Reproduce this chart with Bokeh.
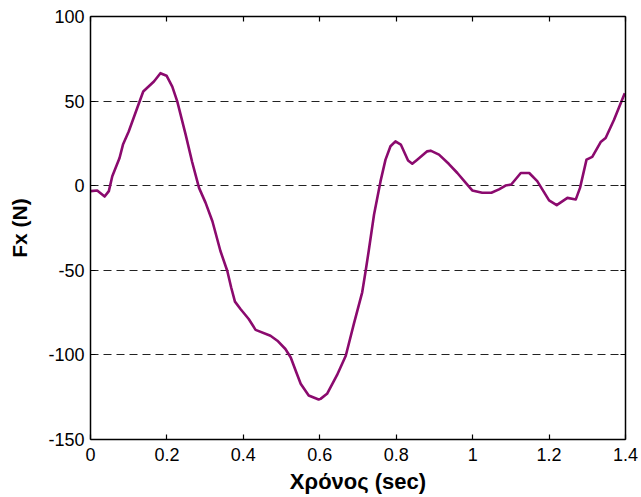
from bokeh.plotting import figure
from bokeh.models import LinearAxis, FixedTicker, Range1d, CustomJSTickFormatter
from bokeh.embed import file_html
from bokeh.resources import INLINE

# Data
time_s = [0.0, 0.0175, 0.037, 0.048, 0.057, 0.076, 0.085, 0.100, 0.122, 0.138,
          0.166, 0.183, 0.199, 0.214, 0.227, 0.249, 0.266, 0.284, 0.301, 0.319, 0.340,
          0.358, 0.368, 0.378, 0.393, 0.414, 0.432, 0.471, 0.489, 0.510, 0.524, 0.538, 0.550,
          0.571, 0.597, 0.602, 0.619, 0.645, 0.668, 0.689, 0.711, 0.720, 0.728,
          0.742, 0.759, 0.772, 0.785, 0.798, 0.812, 0.831, 0.842, 0.855, 0.881,
          0.890, 0.912, 0.938, 0.960, 0.982, 0.999, 1.025, 1.049, 1.069, 1.086,
          1.101, 1.126, 1.148, 1.169, 1.200, 1.220, 1.248, 1.270, 1.281, 1.298,
          1.313, 1.335, 1.348, 1.370, 1.398]
fx_n = [-3.2, -2.8, -6.4, -3.2, 5.6, 16.4, 24.3, 32.0, 45.8, 55.7,
        61.6, 66.5, 65.0, 58.6, 49.8, 30.2, 14.0, -1.3, -10.0, -21.0, -38.6,
        -50.4, -60.0, -68.5, -73.0, -78.8, -85.2, -88.7, -91.6, -96.5, -101.5, -110.0, -117.0,
        -124.0, -126.4, -126.0, -123.0, -112.0, -100.5, -81.8, -63.0, -50.4, -38.6,
        -17.0, 2.7, 15.4, 23.3, 26.2, 24.3, 14.9, 13.0, 15.4, 20.3,
        20.7, 18.4, 12.8, 7.5, 1.7, -2.8, -4.2, -4.2, -2.2, 0.1,
        0.7, 7.5, 7.5, 2.7, -8.7, -11.5, -7.2, -8.1, -1.3, 15.4,
        17.0, 25.8, 28.2, 39.0, 54.7]

x_ticks = [0, 0.2, 0.4, 0.6, 0.8, 1.0, 1.2, 1.4]
x_tick_labels = ["0", "0.2", "0.4", "0.6", "0.8", "1", "1.2", "1.4"]
y_ticks = [-150, -100, -50, 0, 50, 100]
y_tick_labels = ["-150", "-100", "-50", "0", "50", "100"]
grid_levels = [-100, -50, 0, 50]

x_label = "Χρόνος (sec)"
y_label = "Fx (N)"

FONT = "Liberation Sans"

p = figure(width=641, height=497, output_backend="svg", toolbar_location=None,
           x_range=Range1d(0, 1.4), y_range=Range1d(-150, 100),
           min_border_left=90, min_border_right=16, min_border_top=16,
           min_border_bottom=58, x_axis_location="below", y_axis_location="left")
p.background_fill_color = "white"
p.border_fill_color = "white"
p.outline_line_color = None

p.line(time_s, fx_n, line_color="#8B0A6E", line_width=2.6, line_join="round")

def style_axis(ax, ticks, labels, show_labels):
    ax.ticker = FixedTicker(ticks=ticks)
    ax.axis_line_color = "black"
    ax.axis_line_width = 1.5
    ax.major_tick_line_color = "black"
    ax.major_tick_line_width = 1.2
    ax.major_tick_in = 5
    ax.major_tick_out = 0
    ax.minor_tick_line_color = None
    if show_labels:
        ax.major_label_overrides = {t: l for t, l in zip(ticks, labels)}
        ax.major_label_text_font = FONT
        ax.major_label_text_font_size = "18px"
        ax.major_label_text_color = "black"
    else:
        ax.formatter = CustomJSTickFormatter(code="return '';")

xa = p.xaxis[0]
ya = p.yaxis[0]
style_axis(xa, x_ticks, x_tick_labels, True)
style_axis(ya, y_ticks, y_tick_labels, True)
xa.major_label_standoff = 8
ya.major_label_standoff = 6

xa.axis_label = x_label
ya.axis_label = y_label
for ax in (xa, ya):
    ax.axis_label_text_font = FONT
    ax.axis_label_text_font_style = "bold"
    ax.axis_label_text_color = "black"
xa.axis_label_text_font_size = "22px"
ya.axis_label_text_font_size = "21px"
xa.axis_label_standoff = 5
ya.axis_label_standoff = 14

top = LinearAxis()
right = LinearAxis()
style_axis(top, x_ticks, x_tick_labels, False)
style_axis(right, y_ticks, y_tick_labels, False)
top.major_label_standoff = 0
right.major_label_standoff = 0
p.add_layout(top, "above")
p.add_layout(right, "right")

p.xgrid.grid_line_color = None
p.ygrid.ticker = FixedTicker(ticks=grid_levels)
p.ygrid.grid_line_color = "#222222"
p.ygrid.grid_line_width = 1
p.ygrid.grid_line_dash = "8 5"

open("out.html", "w").write(file_html(p, INLINE))
